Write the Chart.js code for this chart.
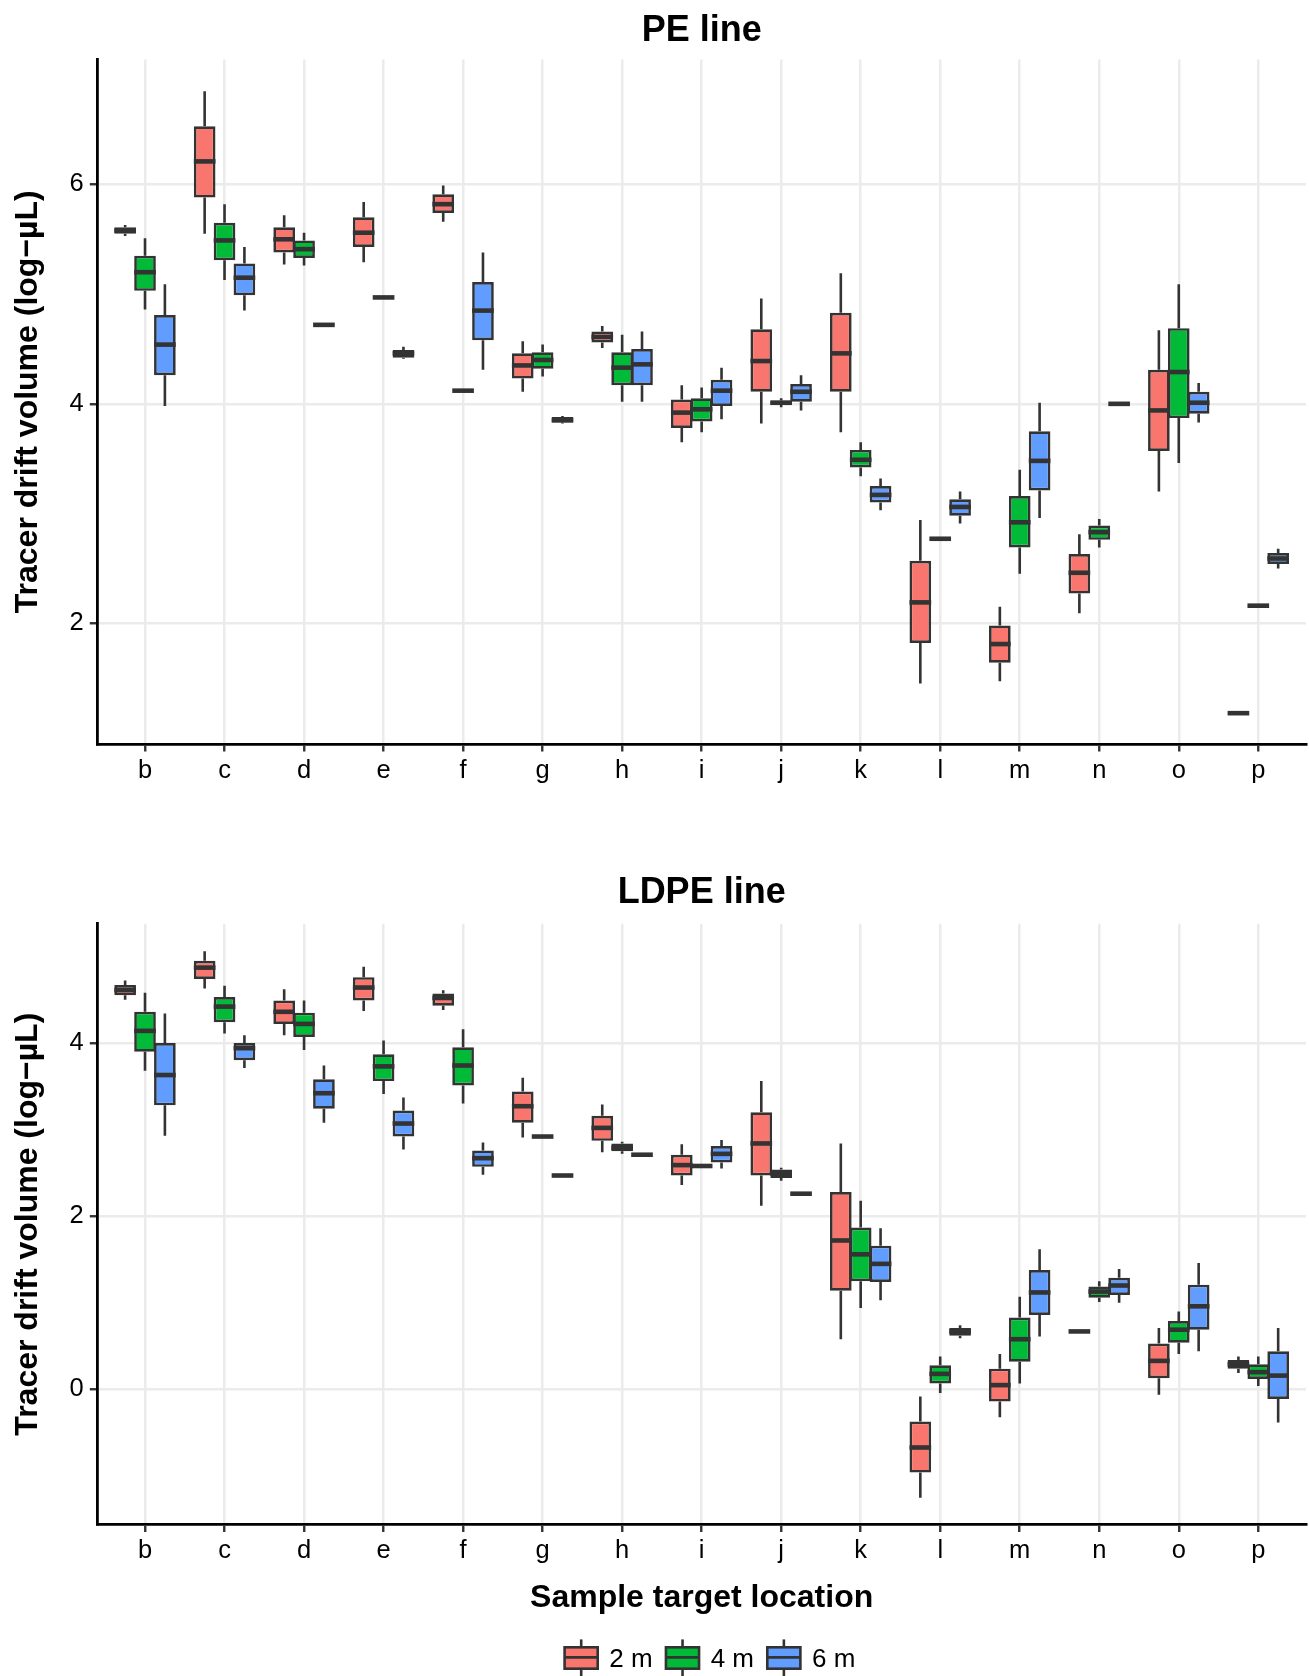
<!DOCTYPE html>
<html>
<head>
<meta charset="utf-8">
<title>Tracer drift volume</title>
<script src="https://cdn.jsdelivr.net/npm/chart.js@4.4.1/dist/chart.umd.min.js"></script>
<style>
  html, body { margin: 0; padding: 0; background: #fff; }
  #wrap { position: relative; width: 1309px; height: 1676px; }
  canvas { position: absolute; left: 0; }
  #peChart { top: 0; }
  #ldpeChart { top: 800px; }
</style>
</head>
<body>
<div id="wrap">
  <canvas id="peChart" width="1309" height="800"></canvas>
  <canvas id="ldpeChart" width="1309" height="876"></canvas>
</div>
<script>
const locations = ["b", "c", "d", "e", "f", "g", "h", "i", "j", "k", "l", "m", "n", "o", "p"];
const depths = ["2 m", "4 m", "6 m"];
const depthColors = ["#F8766D", "#00BA38", "#619CFF"];
const peYTicks = [2, 4, 6];
const ldpeYTicks = [0, 2, 4];

// each row: [lower whisker, Q1, median, Q3, upper whisker], one per location
const pe2m = [
  [5.53, 5.55, 5.58, 5.61, 5.63],
  [5.55, 5.88, 6.21, 6.53, 6.85],
  [5.27, 5.38, 5.50, 5.61, 5.72],
  [5.29, 5.43, 5.56, 5.70, 5.84],
  [5.66, 5.74, 5.82, 5.91, 5.99],
  [4.11, 4.23, 4.35, 4.46, 4.57],
  [4.51, 4.56, 4.61, 4.66, 4.71],
  [3.65, 3.78, 3.92, 4.04, 4.17],
  [3.82, 4.11, 4.39, 4.68, 4.96],
  [3.74, 4.11, 4.46, 4.83, 5.19],
  [1.45, 1.82, 2.19, 2.57, 2.94],
  [1.47, 1.64, 1.81, 1.98, 2.15],
  [2.09, 2.27, 2.46, 2.63, 2.81],
  [3.20, 3.57, 3.94, 4.31, 4.67],
  [1.18, 1.18, 1.18, 1.18, 1.18]
];
const pe4m = [
  [4.86, 5.03, 5.20, 5.35, 5.51],
  [5.13, 5.31, 5.49, 5.65, 5.82],
  [5.26, 5.33, 5.41, 5.49, 5.56],
  [4.97, 4.97, 4.97, 4.97, 4.97],
  [4.12, 4.12, 4.12, 4.12, 4.12],
  [4.25, 4.32, 4.40, 4.47, 4.54],
  [4.02, 4.17, 4.33, 4.47, 4.63],
  [3.74, 3.84, 3.95, 4.05, 4.15],
  [3.97, 3.99, 4.01, 4.03, 4.05],
  [3.34, 3.42, 3.49, 3.58, 3.65],
  [2.77, 2.77, 2.77, 2.77, 2.77],
  [2.45, 2.69, 2.92, 3.16, 3.40],
  [2.69, 2.76, 2.83, 2.89, 2.95],
  [3.46, 3.87, 4.29, 4.69, 5.09],
  [2.16, 2.16, 2.16, 2.16, 2.16]
];
const pe6m = [
  [3.98, 4.26, 4.54, 4.81, 5.09],
  [4.85, 4.99, 5.15, 5.28, 5.43],
  [4.72, 4.72, 4.72, 4.72, 4.72],
  [4.41, 4.42, 4.46, 4.49, 4.52],
  [4.31, 4.58, 4.85, 5.11, 5.38],
  [3.82, 3.83, 3.85, 3.88, 3.89],
  [4.02, 4.17, 4.36, 4.50, 4.66],
  [3.86, 3.98, 4.12, 4.22, 4.33],
  [3.94, 4.02, 4.11, 4.18, 4.26],
  [3.03, 3.10, 3.17, 3.25, 3.32],
  [2.91, 2.98, 3.06, 3.13, 3.20],
  [2.96, 3.21, 3.48, 3.75, 4.01],
  [4.00, 4.00, 4.00, 4.00, 4.00],
  [3.83, 3.91, 4.01, 4.11, 4.19],
  [2.50, 2.54, 2.59, 2.64, 2.68]
];
const ldpe2m = [
  [4.50, 4.55, 4.61, 4.67, 4.72],
  [4.63, 4.74, 4.87, 4.95, 5.06],
  [4.09, 4.22, 4.36, 4.49, 4.62],
  [4.37, 4.49, 4.64, 4.76, 4.88],
  [4.38, 4.43, 4.52, 4.57, 4.61],
  [2.91, 3.08, 3.27, 3.44, 3.60],
  [2.74, 2.87, 3.02, 3.16, 3.29],
  [2.36, 2.47, 2.59, 2.71, 2.83],
  [2.12, 2.47, 2.84, 3.20, 3.56],
  [0.58, 1.14, 1.72, 2.28, 2.84],
  [-1.25, -0.96, -0.67, -0.37, -0.08],
  [-0.32, -0.14, 0.05, 0.24, 0.41],
  [0.67, 0.67, 0.67, 0.67, 0.67],
  [-0.06, 0.13, 0.33, 0.53, 0.71],
  [0.19, 0.24, 0.29, 0.34, 0.38]
];
const ldpe4m = [
  [3.68, 3.90, 4.14, 4.36, 4.58],
  [4.11, 4.24, 4.42, 4.53, 4.66],
  [3.92, 4.07, 4.22, 4.35, 4.49],
  [3.41, 3.56, 3.73, 3.87, 4.03],
  [3.30, 3.51, 3.74, 3.95, 4.16],
  [2.92, 2.92, 2.92, 2.92, 2.92],
  [2.72, 2.75, 2.79, 2.84, 2.86],
  [2.58, 2.58, 2.58, 2.58, 2.58],
  [2.41, 2.44, 2.49, 2.54, 2.56],
  [0.94, 1.25, 1.56, 1.87, 2.18],
  [-0.04, 0.07, 0.18, 0.28, 0.38],
  [0.07, 0.32, 0.58, 0.83, 1.07],
  [1.01, 1.06, 1.13, 1.19, 1.25],
  [0.41, 0.54, 0.69, 0.79, 0.90],
  [0.04, 0.12, 0.20, 0.29, 0.38]
];
const ldpe6m = [
  [2.93, 3.28, 3.63, 4.00, 4.34],
  [3.71, 3.80, 3.94, 4.00, 4.09],
  [3.08, 3.24, 3.42, 3.58, 3.74],
  [2.77, 2.92, 3.07, 3.22, 3.37],
  [2.48, 2.57, 2.67, 2.76, 2.85],
  [2.47, 2.47, 2.47, 2.47, 2.47],
  [2.71, 2.71, 2.71, 2.71, 2.71],
  [2.55, 2.62, 2.72, 2.81, 2.88],
  [2.26, 2.26, 2.26, 2.26, 2.26],
  [1.03, 1.24, 1.45, 1.66, 1.86],
  [0.59, 0.62, 0.67, 0.71, 0.74],
  [0.61, 0.86, 1.12, 1.38, 1.62],
  [1.00, 1.09, 1.20, 1.29, 1.39],
  [0.44, 0.69, 0.96, 1.21, 1.46],
  [-0.38, -0.11, 0.16, 0.44, 0.71]
];

const FONT = "'Liberation Sans', Arial, Helvetica, sans-serif";
const INK = "#333333";

// whiskers go under the boxes, medians on top
function drawBoxParts(chart, part) {
  const ctx = chart.ctx;
  const y = chart.scales.y;
  ctx.save();
  ctx.strokeStyle = INK;
  chart.data.datasets.forEach((ds, d) => {
    const meta = chart.getDatasetMeta(d);
    meta.data.forEach((bar, i) => {
      const [lo, q1, med, q3, hi] = ds.stats[i];
      ctx.beginPath();
      if (part === "whisker") {
        ctx.lineWidth = 2.6;
        ctx.moveTo(bar.x, y.getPixelForValue(hi));
        ctx.lineTo(bar.x, y.getPixelForValue(q3));
        ctx.moveTo(bar.x, y.getPixelForValue(q1));
        ctx.lineTo(bar.x, y.getPixelForValue(lo));
      } else {
        const half = bar.width / 2;
        const py = y.getPixelForValue(med);
        ctx.lineWidth = 4.6;
        ctx.moveTo(bar.x - half, py);
        ctx.lineTo(bar.x + half, py);
      }
      ctx.stroke();
    });
  });
  ctx.restore();
}

const boxPlugin = {
  id: "boxParts",
  beforeDatasetsDraw(chart) { drawBoxParts(chart, "whisker"); },
  afterDatasetsDraw(chart) { drawBoxParts(chart, "median"); }
};

const legendPlugin = {
  id: "boxLegend",
  afterDraw(chart) {
    const ctx = chart.ctx;
    const cy = 858;
    let x = 563.3;
    ctx.save();
    ctx.font = `26px ${FONT}`;
    ctx.textBaseline = "middle";
    depths.forEach((lab, k) => {
      ctx.strokeStyle = INK;
      ctx.lineWidth = 2.6;
      ctx.beginPath();
      ctx.moveTo(x + 17.9, cy - 18.6);
      ctx.lineTo(x + 17.9, cy + 18.6);
      ctx.stroke();
      ctx.fillStyle = depthColors[k];
      ctx.fillRect(x + 1.3, cy - 10.7, 33.1, 21.4);
      ctx.strokeRect(x + 1.3, cy - 10.7, 33.1, 21.4);
      ctx.lineWidth = 2.8;
      ctx.beginPath();
      ctx.moveTo(x + 1.3, cy - 0.7);
      ctx.lineTo(x + 34.4, cy - 0.7);
      ctx.stroke();
      ctx.fillStyle = "#000";
      ctx.fillText(lab, x + 46, cy + 2);
      x += 46 + ctx.measureText(lab).width + 12;
    });
    ctx.restore();
  }
};

function makeChart(canvasId, title, series, yMin, yMax, yTicks, layout) {
  const datasets = series.map((stats, k) => ({
    label: depths[k],
    data: stats.map((s, i) => ({ x: i, y: [s[1], s[3]] })),
    stats,
    backgroundColor: depthColors[k],
    borderColor: INK,
    borderWidth: 2.7,
    borderSkipped: false,
    barPercentage: 1.09,
    categoryPercentage: 0.75
  }));

  const grid = {
    color: "#EBEBEB",
    lineWidth: 2.5,
    drawTicks: true,
    tickLength: 7.5,
    tickColor: INK,
    tickWidth: 2.4,
    offset: false
  };
  const border = { display: true, color: "#000", width: 2.8 };
  const tickFont = { family: FONT, size: 25.5 };

  return new Chart(document.getElementById(canvasId), {
    type: "bar",
    data: { datasets },
    options: {
      responsive: false,
      maintainAspectRatio: false,
      devicePixelRatio: 1,
      animation: false,
      events: [],
      layout: { padding: { left: 0, right: 3, top: 0, bottom: layout.bottomPad } },
      plugins: {
        legend: { display: false },
        tooltip: { enabled: false },
        title: {
          display: true,
          text: title,
          fullSize: false,
          color: "#000",
          font: { family: FONT, size: 36, weight: "bold" },
          padding: { top: layout.titleTop, bottom: layout.titleBottom }
        }
      },
      scales: {
        x: {
          type: "linear",
          min: -0.6,
          max: 14.6,
          offset: false,
          afterBuildTicks: (s) => { s.ticks = locations.map((_, i) => ({ value: i })); },
          afterFit: (s) => { s.height = layout.xHeight; },
          ticks: {
            font: tickFont,
            color: "#000",
            padding: 4,
            autoSkip: false,
            maxRotation: 0,
            callback: (v) => locations[v]
          },
          grid,
          border,
          title: {
            display: layout.xTitle,
            text: "Sample target location",
            color: "#000",
            font: { family: FONT, size: 32, weight: "bold" },
            padding: { top: 0, bottom: 2 }
          }
        },
        y: {
          type: "linear",
          min: yMin,
          max: yMax,
          afterBuildTicks: (s) => { s.ticks = yTicks.map((v) => ({ value: v })); },
          afterFit: (s) => { s.width = 97.3; },
          ticks: { font: tickFont, color: "#000", padding: 6, callback: (v) => String(v) },
          grid,
          border,
          title: {
            display: true,
            text: "Tracer drift volume (log\u2212\u00b5L)",
            color: "#000",
            font: { family: FONT, size: 32, weight: "bold" },
            padding: { top: 9.2, bottom: 0 }
          }
        }
      }
    },
    plugins: layout.legend ? [boxPlugin, legendPlugin] : [boxPlugin]
  });
}

makeChart("peChart", "PE line", [pe2m, pe4m, pe6m], 0.899, 7.139, peYTicks,
  { titleTop: 9.0, titleBottom: 7.3, xHeight: 56, bottomPad: 0, xTitle: false, legend: false });

makeChart("ldpeChart", "LDPE line", [ldpe2m, ldpe4m, ldpe6m], -1.559, 5.376, ldpeYTicks,
  { titleTop: 71.1, titleBottom: 9.5, xHeight: 95, bottomPad: 56.5, xTitle: true, legend: true });
</script>
</body>
</html>
